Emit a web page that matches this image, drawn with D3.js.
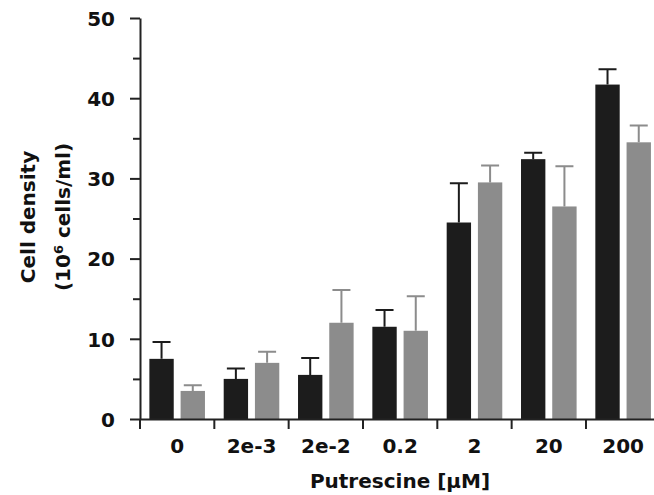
<!DOCTYPE html>
<html>
<head>
<meta charset="utf-8">
<script src="https://cdn.jsdelivr.net/npm/d3@7"></script>
<style>
  body { margin: 0; background: #fff; }
  text { font-family: "DejaVu Sans", sans-serif; font-weight: 700; fill: #111; }
</style>
</head>
<body>
<svg></svg>
<script>
const categories = ["0", "2e-3", "2e-2", "0.2", "2", "20", "200"]
const series = ["a", "b"]
const meansA = [7.5, 5.0, 5.5, 11.5, 24.5, 32.4, 41.7]
const errA = [2.1, 1.3, 2.1, 2.1, 4.9, 0.8, 1.9]
const meansB = [3.5, 7.0, 12.0, 11.0, 29.5, 26.5, 34.5]
const errB = [0.7, 1.4, 4.1, 4.3, 2.1, 5.0, 2.1]
const yTicks = [0, 10, 20, 30, 40, 50]
const yMinor = [5, 15, 25, 35, 45]

const colors = { a: "#1c1c1c", b: "#8c8c8c" }

const data = categories.map((c, i) => {
  return { cat: c, values: [
    { key: "a", v: meansA[i], e: errA[i] },
    { key: "b", v: meansB[i], e: errB[i] }
  ] }
})

const svg = d3.select("svg")
  .attr("width", 654)
  .attr("height", 495)

const x = d3.scaleBand()
  .domain(categories)
  .range([140, 660.3])
  .padding(0)

const xInner = d3.scaleBand()
  .domain(series)
  .range([0, x.bandwidth()])
  .paddingInner(0.22)
  .paddingOuter(0.3)

const y = d3.scaleLinear()
  .domain([0, 50])
  .range([419, 18])

// bars
const groups = svg.append("g")
  .selectAll("g")
  .data(data)
  .join("g")
  .attr("transform", d => `translate(${x(d.cat)},0)`)

groups.selectAll("rect")
  .data(d => d.values)
  .join("rect")
  .attr("x", d => xInner(d.key))
  .attr("y", d => y(d.v))
  .attr("width", xInner.bandwidth())
  .attr("height", d => y(0) - y(d.v))
  .attr("fill", d => colors[d.key])

// error bars, upper only
const cap = 18
groups.selectAll("path.err")
  .data(d => d.values)
  .join("path")
  .attr("class", "err")
  .attr("fill", "none")
  .attr("stroke", d => colors[d.key])
  .attr("stroke-width", 2)
  .attr("d", d => {
    const cx = xInner(d.key) + xInner.bandwidth() / 2
    return `M${cx},${y(d.v)}V${y(d.v + d.e)}M${cx - cap / 2},${y(d.v + d.e)}H${cx + cap / 2}`
  })

// y axis
const yAxis = d3.axisLeft(y)
  .tickValues(yTicks)
  .tickSize(10)
  .tickPadding(15)
  .tickSizeOuter(0)

const yG = svg.append("g")
  .attr("transform", "translate(140,0)")
  .call(yAxis)

yG.selectAll(".tick text")
  .style("font-size", "20px")
  .attr("dy", "0.36em")

svg.append("g")
  .attr("transform", "translate(140,0)")
  .call(d3.axisLeft(y).tickValues(yMinor).tickSize(7).tickFormat("").tickSizeOuter(0))
  .select(".domain").remove()

// x axis
const xAxis = d3.axisBottom(x)
  .tickValues(categories)
  .tickSize(0)
  .tickPadding(20)
  .tickSizeOuter(0)

const xG = svg.append("g")
  .attr("transform", "translate(0,419)")
  .call(xAxis)

xG.selectAll(".tick text")
  .style("font-size", "20px")

xG.append("g")
  .selectAll("line")
  .data(categories)
  .join("line")
  .attr("x1", d => x(d))
  .attr("x2", d => x(d))
  .attr("y1", 0)
  .attr("y2", 10)
  .attr("stroke", "#222")
  .attr("stroke-width", 2)

svg.selectAll(".domain, .tick line")
  .attr("stroke", "#222")
  .attr("stroke-width", 2)

// axis titles
svg.append("text")
  .attr("x", 400)
  .attr("y", 488)
  .attr("text-anchor", "middle")
  .style("font-size", "20px")
  .text("Putrescine [\u03bcM]")

const yTitle = svg.append("text")
  .attr("transform", "translate(0,217) rotate(-90)")
  .attr("text-anchor", "middle")
  .style("font-size", "20px")

yTitle.append("tspan")
  .attr("x", 0)
  .attr("y", 35)
  .text("Cell density")

const line2 = yTitle.append("tspan")
  .attr("x", 0)
  .attr("y", 70)

line2.append("tspan").text("(10")
line2.append("tspan")
  .attr("dy", -7)
  .style("font-size", "13px")
  .text("6")
line2.append("tspan")
  .attr("dy", 7)
  .text(" cells/ml)")
</script>
</body>
</html>
